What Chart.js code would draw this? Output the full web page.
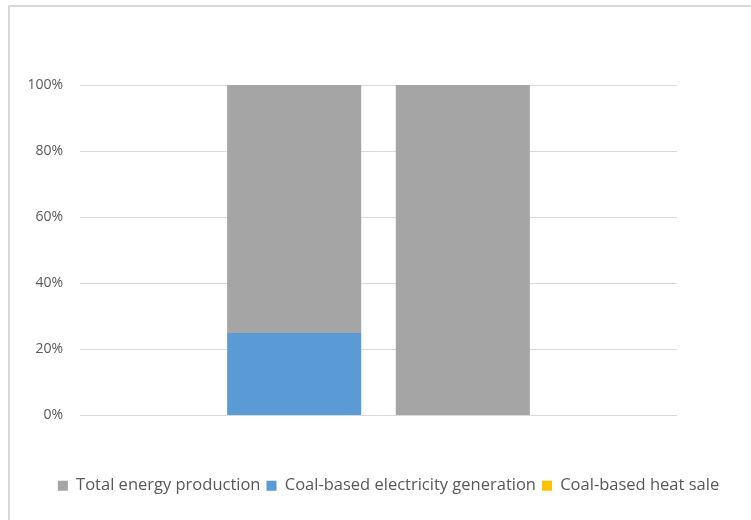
<!DOCTYPE html>
<html>
<head>
<meta charset="utf-8">
<script src="https://cdn.jsdelivr.net/npm/chart.js@4/dist/chart.umd.min.js"></script>
<style>
  html, body { margin: 0; padding: 0; background: #ffffff; }
  #wrap { position: relative; width: 751px; height: 520px; }
  #frame { position: absolute; left: 8px; top: 5px; right: -2px; bottom: -2px;
           border-left: 2px solid #d9d9d9; border-top: 2px solid #d9d9d9; pointer-events: none; }
  canvas { position: absolute; left: 0; top: 0; }
</style>
</head>
<body>
<div id="wrap">
  <canvas id="chart" width="751" height="520"></canvas>
  <div id="frame"></div>
</div>
<script>
// Two unlabelled columns, shares in percent (100% stacked)
const categories = ['', ''];
const totalEnergyProduction = [75, 100];
const coalElectricityGeneration = [25, 0];
const coalHeatSale = [0, 0];
const yTicks = [0, 20, 40, 60, 80, 100];

const seriesNames = ['Total energy production', 'Coal-based electricity generation', 'Coal-based heat sale'];
const seriesColors = ['#a5a5a5', '#5b9bd5', '#ffc000'];

const toPoints = arr => arr.map((v, i) => ({ x: i, y: v }));

// stacking bottom-to-top: electricity, heat, total; legend keeps series order
const datasets = [
  { label: seriesNames[0], data: toPoints(totalEnergyProduction), backgroundColor: seriesColors[0], order: 2, legendRank: 0 },
  { label: seriesNames[1], data: toPoints(coalElectricityGeneration), backgroundColor: seriesColors[1], order: 0, legendRank: 1 },
  { label: seriesNames[2], data: toPoints(coalHeatSale), backgroundColor: seriesColors[2], order: 1, legendRank: 2 }
].map(d => Object.assign(d, { borderWidth: 0, barPercentage: 0.795, categoryPercentage: 1 }));

const FONT = '"Open Sans", sans-serif';

new Chart(document.getElementById('chart'), {
  type: 'bar',
  data: { datasets },
  options: {
    responsive: false,
    animation: false,
    layout: { padding: { left: 26, right: 0, top: 85, bottom: 16 } },
    scales: {
      x: {
        type: 'linear',
        stacked: true,
        offset: false,
        min: -1.27,
        max: categories.length - 1 + 1.27,
        afterBuildTicks: s => { s.ticks = categories.map((c, i) => ({ value: i })); },
        afterFit: s => { s.height = 56; },
        grid: { display: false },
        border: { display: false },
        ticks: { display: false }
      },
      y: {
        stacked: true,
        min: 0,
        max: 100,
        border: { display: false },
        grid: { color: '#d9d9d9', lineWidth: 1, drawTicks: false },
        afterBuildTicks: s => { s.ticks = yTicks.map(v => ({ value: v })); },
        afterFit: s => { s.width = 54; },
        ticks: {
          padding: 17,
          color: '#595959',
          font: { family: FONT, size: 14 },
          callback: v => v + '%'
        }
      },
      // empty margin on the right of the plot
      yRight: {
        position: 'right',
        display: true,
        grid: { display: false },
        border: { display: false },
        ticks: { display: false },
        afterFit: s => { s.width = 74; }
      }
    },
    plugins: {
      tooltip: { enabled: false },
      legend: {
        position: 'bottom',
        labels: {
          boxWidth: 10,
          boxHeight: 10,
          padding: 6,
          color: '#595959',
          font: { family: FONT, size: 16.5 },
          sort: (a, b) => datasets[a.datasetIndex].legendRank - datasets[b.datasetIndex].legendRank
        }
      }
    }
  }
});
</script>
</body>
</html>
